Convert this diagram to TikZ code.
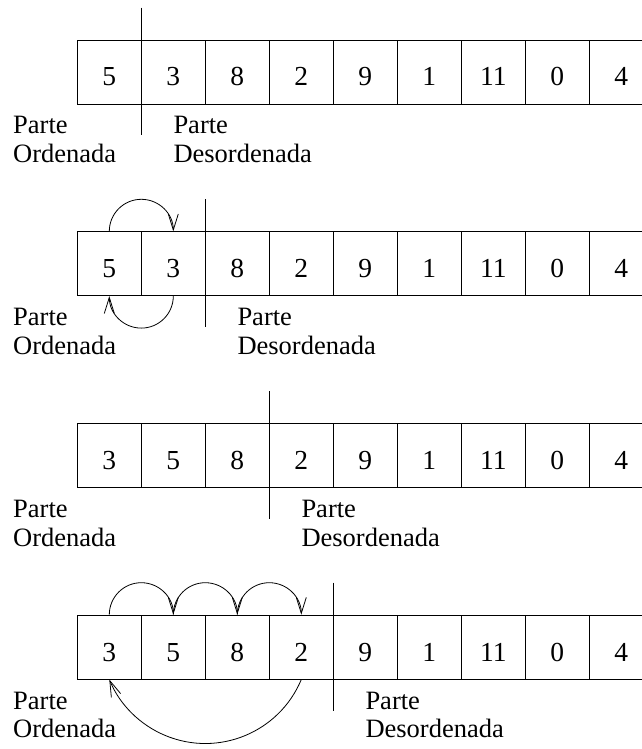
\documentclass[tikz,border=0pt]{standalone}
\usepackage{fontspec}
\setmainfont{Liberation Serif}
\usetikzlibrary{arrows.meta}
\begin{document}
\begin{tikzpicture}[x=1pt,y=1pt,
  cell/.style={draw, line width=0.8pt, minimum width=64pt, minimum height=64pt, inner sep=0pt,
    text height=28pt, text depth=0pt, font=\fontsize{27.5}{32}\selectfont},
  lbl/.style={anchor=base west, inner sep=0pt, font=\fontsize{26.5}{31}\selectfont},
  divider/.style={line width=0.8pt},
  arr/.style={-{Straight Barb[length=16pt,width=10pt]}, line width=0.8pt}]
\useasboundingbox (0,0) rectangle (642,-749);
\foreach \r/\vals in {1/{5,3,8,2,9,1,11,0,4},2/{5,3,8,2,9,1,11,0,4},3/{3,5,8,2,9,1,11,0,4},4/{3,5,8,2,9,1,11,0,4}}{
  \foreach \v [count=\i] in \vals {
    \node[cell] (r\r c\i) at ({109.3+64*(\i-1)}, {-(72+191.7*(\r-1))}) {\v};
  }
  \draw[divider] ([yshift=32pt]r\r c\r.north east) -- ([yshift=-31pt]r\r c\r.south east);
  \node[lbl] (po\r) at (13, {-(134+191.7*(\r-1))}) {Parte};
  \node[lbl] (or\r) at (13, {-(162.7+191.7*(\r-1))}) {Ordenada};
  \node[lbl] (pd\r) at ({77.3+64*\r+32}, {-(134+191.7*(\r-1))}) {Parte};
  \node[lbl] (de\r) at ({77.3+64*\r+32}, {-(162.7+191.7*(\r-1))}) {Desordenada};
}
% row 2 swap arrows
\draw[arr] (r2c1.north) arc[start angle=180, end angle=0, radius=32];
\draw[arr] (r2c2.south) arc[start angle=0, end angle=-180, radius=32];
% row 4 shifting arrows
\draw[arr] (r4c1.north) arc[start angle=180, end angle=0, radius=32];
\draw[arr] (r4c2.north) arc[start angle=180, end angle=0, radius=32];
\draw[arr] (r4c3.north) arc[start angle=180, end angle=0, radius=32];
\draw[arr] (r4c4.south) arc[start angle=-22.62, end angle=-157.38, radius=104];
\end{tikzpicture}
\end{document}
